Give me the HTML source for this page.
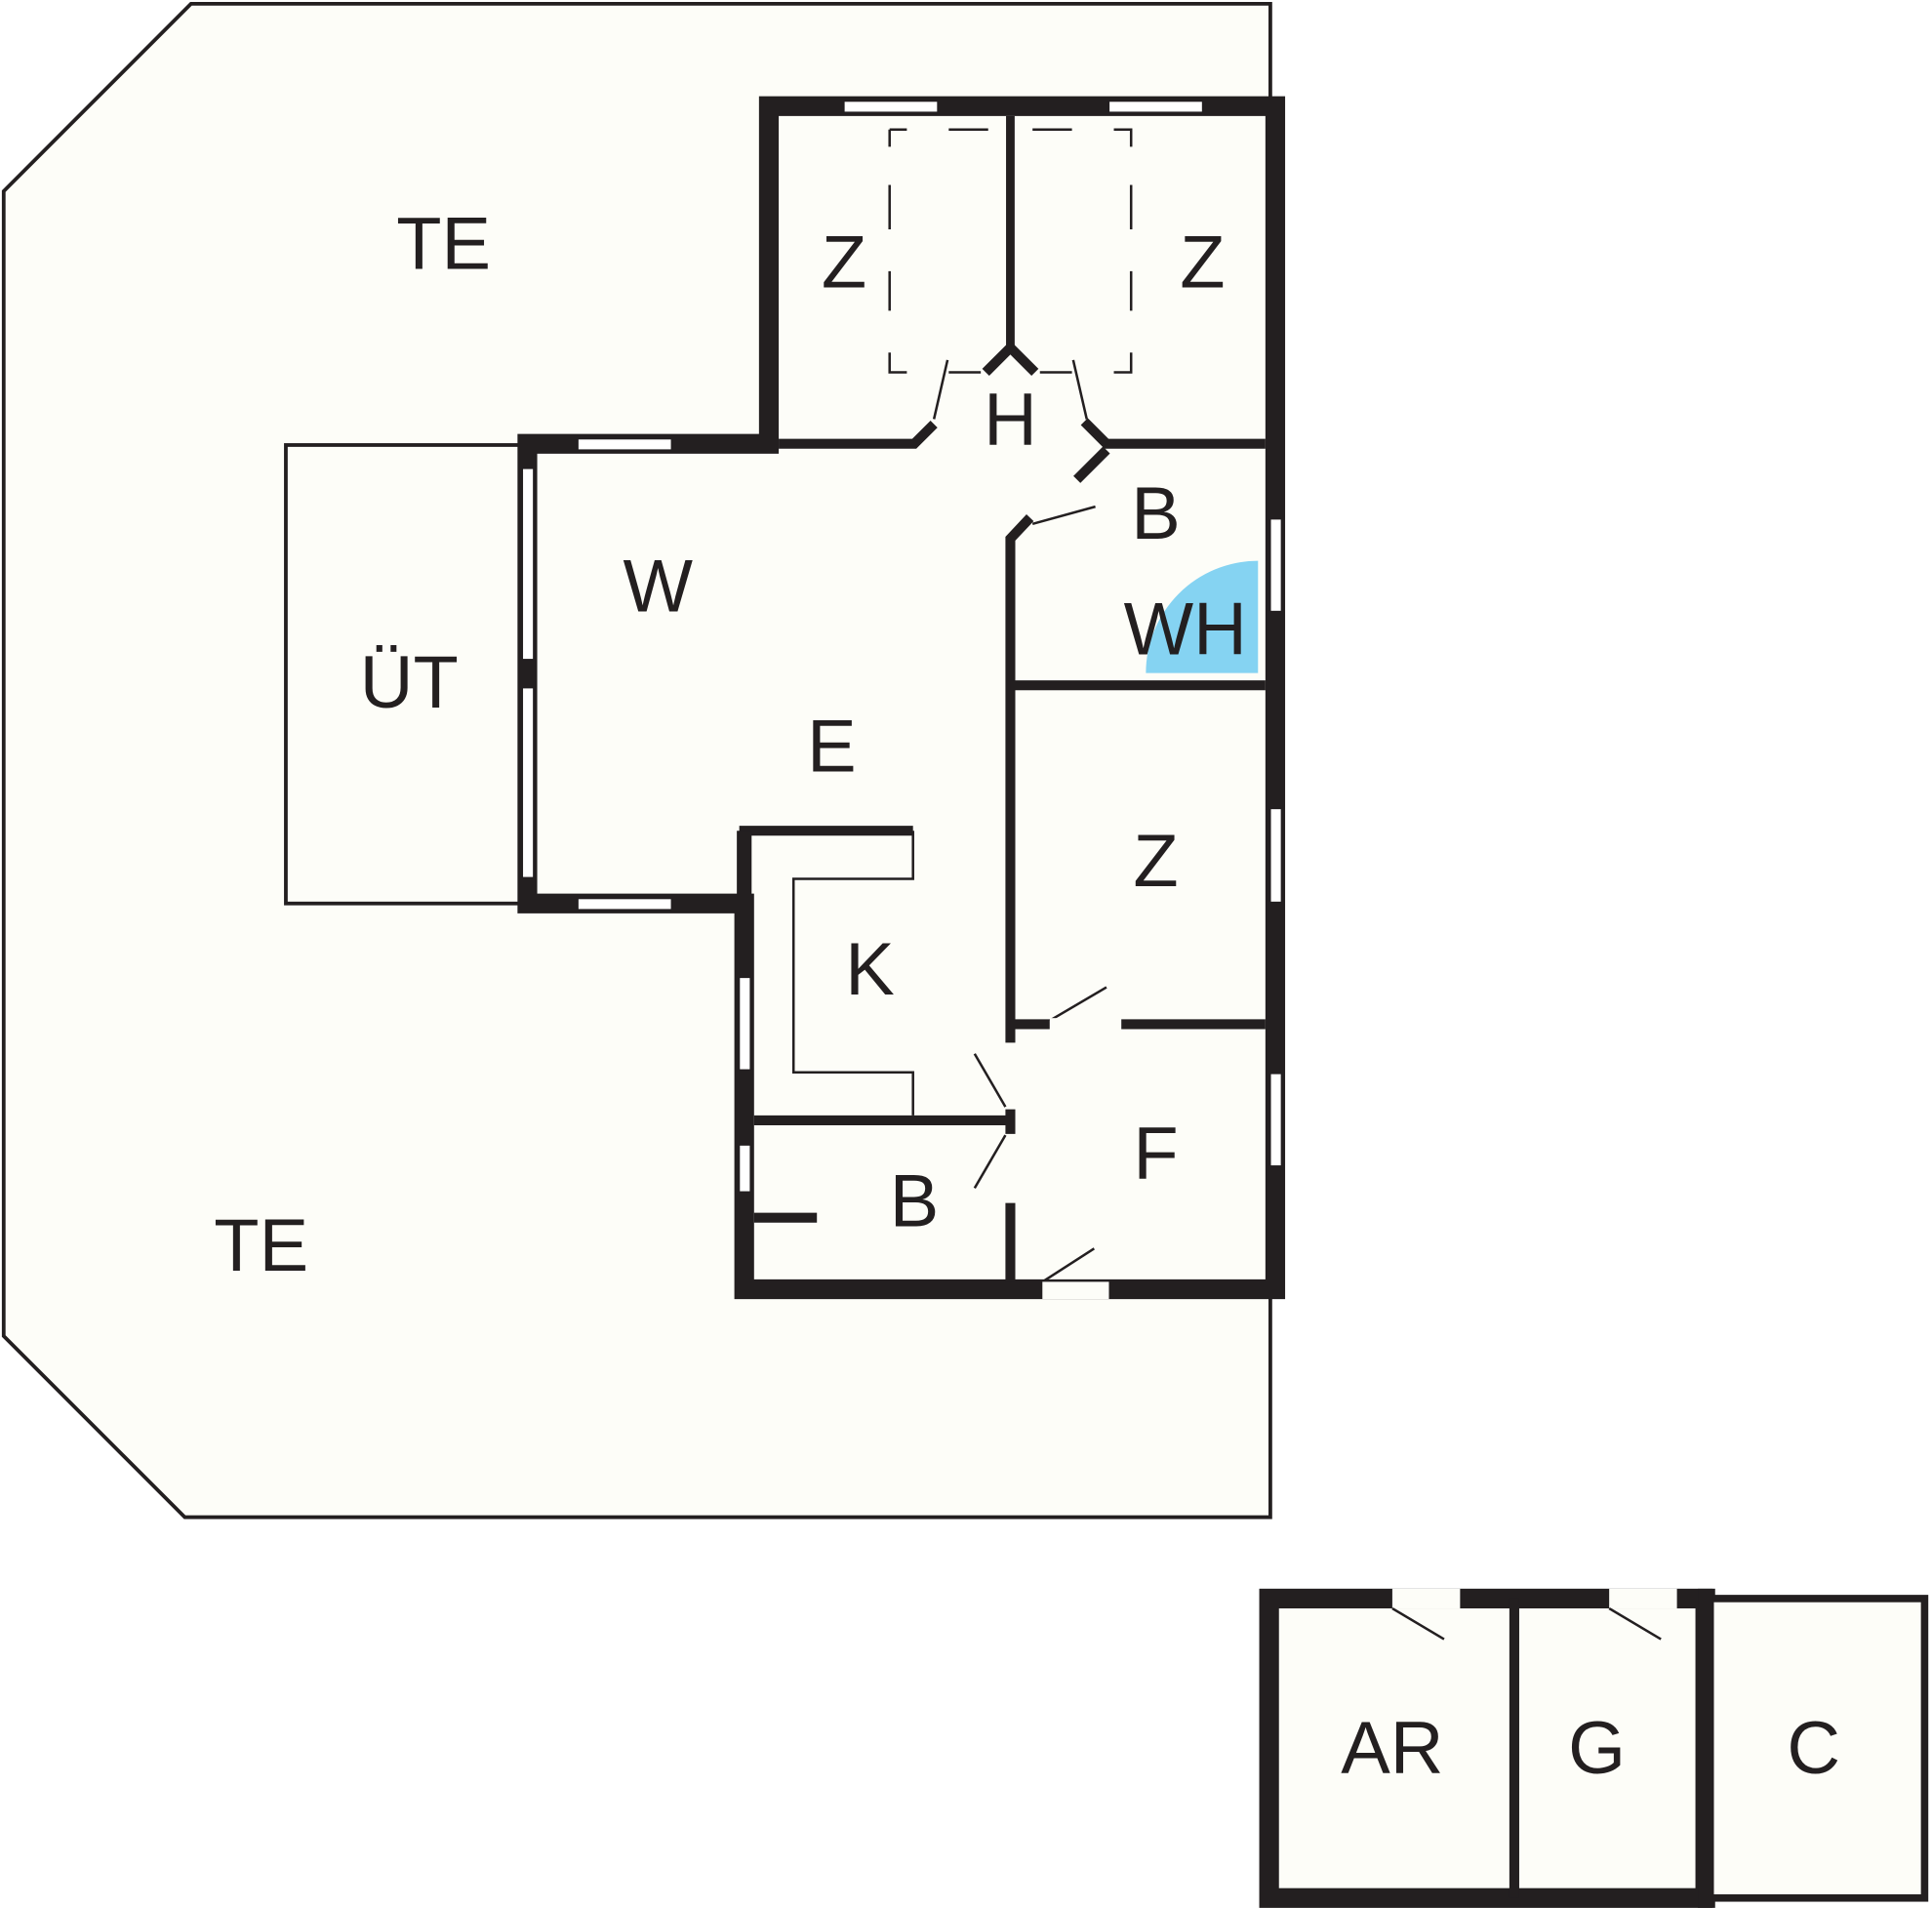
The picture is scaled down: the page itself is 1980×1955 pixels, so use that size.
<!DOCTYPE html>
<html><head><meta charset="utf-8"><style>
html,body{margin:0;padding:0;background:#fff;}
svg{display:block;}
text{font-family:"Liberation Sans",sans-serif;font-size:60px;fill:#231f20;text-anchor:middle;}
</style></head><body>
<svg width="1980" height="1955" viewBox="0 0 1568 1548" xmlns="http://www.w3.org/2000/svg">
<rect width="1568" height="1548" fill="#fff"/>
<polygon points="155,3 1031,3 1031,1231 150,1231 3,1084 3,155" fill="#fdfdf8" stroke="#231f20" stroke-width="3"/>
<rect x="232" y="361" width="190" height="372" fill="#fdfdf8" stroke="#231f20" stroke-width="3"/>
<polygon points="624,86 1035,86 1035,1046 604,1046 604,733 428,733 428,360 624,360" fill="#fdfdf8" stroke="#231f20" stroke-width="16"/>
<g stroke="#231f20" fill="none">
<line x1="820" y1="94" x2="820" y2="284" stroke-width="7"/>
<polyline points="632,360 742,360 758,344" stroke-width="8"/>
<polyline points="800,302 820,282 840,302" stroke-width="8"/>
<polyline points="880,342 898,360 1027,360" stroke-width="8"/>
<polyline points="898,365 874,389" stroke-width="8"/>
<polyline points="836,420 820,437 820,846" stroke-width="8"/>
<line x1="820" y1="976" x2="820" y2="1040" stroke-width="8"/>
<line x1="820" y1="900" x2="820" y2="920" stroke-width="8"/>
<line x1="820" y1="556" x2="1027" y2="556" stroke-width="8"/>
<line x1="820" y1="831" x2="852" y2="831" stroke-width="8"/>
<line x1="910" y1="831" x2="1027" y2="831" stroke-width="8"/>
<line x1="612" y1="909" x2="820" y2="909" stroke-width="8"/>
<line x1="612" y1="988" x2="663" y2="988" stroke-width="8"/>
<polyline points="600,674 741,674" stroke-width="8"/>
<line x1="604" y1="674" x2="604" y2="730" stroke-width="12"/>
<polyline points="741,674 741,713 644,713 644,870 741,870 741,905" stroke-width="2"/>
<line x1="758" y1="340" x2="769" y2="292" stroke-width="2"/>
<line x1="882" y1="340" x2="871" y2="292" stroke-width="2"/>
<line x1="838" y1="425" x2="889" y2="411" stroke-width="2"/>
<line x1="852" y1="828" x2="898" y2="801" stroke-width="2"/>
<line x1="816" y1="898" x2="791" y2="855" stroke-width="2"/>
<line x1="816" y1="921" x2="791" y2="964" stroke-width="2"/>
<line x1="846" y1="1040" x2="888" y2="1013" stroke-width="2"/>
<path d="M722,105 h14 M770,105 h32 M838,105 h32 M904,105 h14 v14 M722,105 v14 M722,150 v36 M722,220 v32 M722,286 v16 h14 M770,302 h26 M918,150 v36 M918,220 v32 M918,286 v16 h-14 M870,302 h-26" stroke-width="2"/>
</g>
<g fill="#fdfdf8">
<rect x="852" y="826" width="58" height="10"/>
<rect x="846" y="1040" width="54" height="14"/>
</g>
<g fill="#fff" stroke="#231f20" stroke-width="1">
<rect x="685" y="82" width="76" height="9"/>
<rect x="900" y="82" width="76" height="9"/>
<rect x="424" y="380" width="9" height="155"/>
<rect x="424" y="558" width="9" height="154"/>
<rect x="469" y="356" width="76" height="9"/>
<rect x="469" y="729" width="76" height="9"/>
<rect x="1031" y="421" width="9" height="75"/>
<rect x="1031" y="656" width="9" height="76"/>
<rect x="1031" y="871" width="9" height="75"/>
<rect x="600" y="793" width="9" height="75"/>
<rect x="600" y="929" width="9" height="38"/>
</g>
<path d="M1021,546 L930,546 A91,91 0 0 1 1021,455 Z" fill="#85d3f2"/>
<rect x="1030" y="1297" width="354" height="243" fill="#fdfdf8" stroke="#231f20" stroke-width="16"/>
<rect x="1388" y="1297" width="174" height="243" fill="#fdfdf8" stroke="#231f20" stroke-width="6"/>
<line x1="1384" y1="1289" x2="1384" y2="1548" stroke="#231f20" stroke-width="12"/>
<line x1="1229" y1="1297" x2="1229" y2="1540" stroke="#231f20" stroke-width="8"/>
<rect x="1130" y="1289" width="55" height="16" fill="#fdfdf8"/>
<rect x="1306" y="1289" width="55" height="16" fill="#fdfdf8"/>
<line x1="1130" y1="1305" x2="1172" y2="1330" stroke="#231f20" stroke-width="2"/>
<line x1="1306" y1="1305" x2="1348" y2="1330" stroke="#231f20" stroke-width="2"/>
<text x="360" y="218">TE</text>
<text x="212" y="1031">TE</text>
<text x="685" y="233">Z</text>
<text x="976" y="233">Z</text>
<text x="820" y="361">H</text>
<text x="938" y="437">B</text>
<text x="962" y="531">WH</text>
<text x="534" y="496">W</text>
<text x="332" y="574">ÜT</text>
<text x="675" y="626">E</text>
<text x="938" y="719">Z</text>
<text x="706" y="807">K</text>
<text x="938" y="956">F</text>
<text x="742" y="995">B</text>
<text x="1130" y="1439">AR</text>
<text x="1296" y="1439">G</text>
<text x="1472" y="1439">C</text>
</svg>
</body></html>
